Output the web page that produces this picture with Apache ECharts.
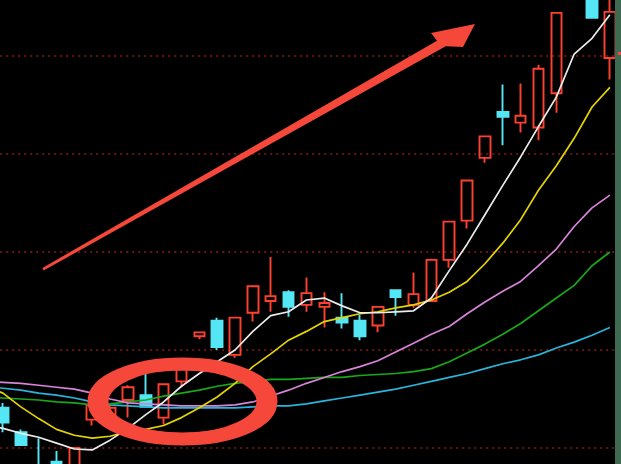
<!DOCTYPE html>
<html><head><meta charset="utf-8">
<script src="https://cdn.jsdelivr.net/npm/echarts@6/dist/echarts.min.js"></script>
<style>html,body{margin:0;padding:0;background:#000;overflow:hidden;width:621px;height:464px;position:relative;}
#c{position:absolute;left:-24px;top:-42px;width:648px;height:588px;}</style>
</head><body><div id="c"></div>
<script>
const days = ['1','2','3','4','5','6','7','8','9','10','11','12','13','14','15','16','17','18','19','20','21','22','23','24','25','26','27','28','29','30','31','32','33','34','35','36'];
const openP  = [8.39,8.41,8.16,7.82,7.86,7.78,8.29,8.34,8.49,8.54,8.31,8.68,9.14,9.30,8.95,9.38,9.50,9.59,9.46,9.44,9.33,9.30,9.25,9.61,9.46,9.50,9.92,10.32,10.96,11.43,11.32,11.27,11.62,12.83,12.83,11.98];
const closeP = [8.29,8.26,8.03,7.73,7.78,8.00,8.44,8.41,8.62,8.42,8.65,8.80,9.18,9.03,9.33,9.65,9.55,9.44,9.58,9.48,9.28,9.14,9.44,9.54,9.57,9.92,10.31,10.73,11.18,11.38,11.39,11.87,12.44,12.98,12.39,12.45];
const lowP   = [8.23,8.16,8.02,7.69,7.73,7.72,8.23,8.32,8.31,8.41,8.24,8.62,9.11,9.00,8.92,9.29,9.39,9.34,9.39,9.23,9.22,9.10,9.18,9.35,9.43,9.49,9.84,10.24,10.91,11.09,11.22,11.14,11.42,12.80,12.39,11.76];
const highP  = [8.44,8.46,8.19,8.10,7.97,8.01,8.49,8.44,8.64,8.76,8.66,8.82,9.19,9.33,9.34,9.66,9.95,9.61,9.74,9.59,9.58,9.36,9.45,9.61,9.79,9.93,10.31,10.73,11.18,11.71,11.72,11.91,12.44,12.99,12.93,12.67];
const ma5  = [8.24,8.20,8.15,8.11,8.05,7.99,7.98,8.08,8.20,8.34,8.47,8.63,8.76,8.88,9.00,9.19,9.35,9.39,9.51,9.53,9.45,9.38,9.38,9.39,9.40,9.53,9.81,10.08,10.38,10.68,10.97,11.28,11.58,12.02,12.18,12.42];
const ma10 = [8.63,8.56,8.42,8.30,8.19,8.13,8.10,8.12,8.17,8.19,8.23,8.31,8.41,8.52,8.66,8.83,8.96,9.10,9.19,9.29,9.33,9.37,9.39,9.43,9.46,9.51,9.59,9.70,9.88,10.09,10.33,10.63,10.88,11.16,11.48,11.68];
const ma20 = [8.68,8.67,8.66,8.64,8.62,8.60,8.56,8.50,8.46,8.45,8.44,8.43,8.43,8.43,8.44,8.47,8.53,8.59,8.66,8.72,8.78,8.83,8.89,8.98,9.07,9.16,9.24,9.37,9.49,9.60,9.70,9.86,10.03,10.26,10.45,10.58];
const ma30 = [8.52,8.51,8.50,8.49,8.47,8.46,8.44,8.45,8.47,8.49,8.53,8.56,8.59,8.63,8.66,8.68,8.70,8.70,8.71,8.72,8.72,8.74,8.75,8.76,8.78,8.81,8.88,8.97,9.06,9.16,9.27,9.40,9.53,9.66,9.86,10.00];
const ma60 = [8.63,8.61,8.59,8.56,8.54,8.51,8.47,8.44,8.43,8.42,8.41,8.41,8.41,8.41,8.41,8.42,8.43,8.43,8.45,8.48,8.51,8.54,8.57,8.60,8.64,8.68,8.72,8.76,8.81,8.86,8.90,8.95,9.02,9.08,9.15,9.23];

const kData = days.map((d, i) => [openP[i], closeP[i], lowP[i], highP[i]]);
const RED = '#f5483a';
function maLine(name, data, color) {
  return { name, type: 'line', data, symbol: 'none', smooth: false, z: 5,
    lineStyle: { color, width: 1.7 }, silent: true };
}
const chart = echarts.init(document.getElementById('c'), null, { renderer: 'canvas' });
chart.setOption({
  backgroundColor: '#000',
  animation: false,
  grid: { left: 0.2, right: 5.2, top: 0, bottom: 0, containLabel: false },
  xAxis: { type: 'category', data: days, boundaryGap: true,
    axisLine: { show: false }, axisTick: { show: false }, axisLabel: { show: false }, splitLine: { show: false } },
  yAxis: { type: 'value', min: 7, max: 13, interval: 1,
    axisLine: { show: false }, axisTick: { show: false }, axisLabel: { show: false },
    splitLine: { show: true, lineStyle: { color: '#8c1a1a', width: 1.5, type: [2, 4] } } },
  series: [
    { type: 'candlestick', data: kData, barWidth: 11, z: 3,
      itemStyle: { color: 'rgba(0,0,0,0)', color0: '#55e6f5', borderColor: '#ff4030', borderColor0: '#55e6f5', borderWidth: 1.9 } },
    maLine('MA60', ma60, '#2ab4dc'),
    maLine('MA30', ma30, '#18a818'),
    maLine('MA20', ma20, '#d884d8'),
    maLine('MA10', ma10, '#e6d400'),
    maLine('MA5', ma5, '#ececec')
  ],
  graphic: [
    { type: 'group', x: 24, y: 42, z: 100, children: [
      { type: 'polygon', z: 100, shape: { points: [[42.4,268.0],[437.0,40.8],[431,33],[475,24],[463,47],[445.7,46.2],[43.6,270.4]] },
        style: { fill: RED } },
      { type: 'ellipse', z: 100, shape: { cx: 182.5, cy: 401.5, rx: 88.5, ry: 37.5 },
        style: { fill: 'none', stroke: RED, lineWidth: 13 } },
      { type: 'ellipse', z: 100, shape: { cx: 182.5, cy: 401.5, rx: 80, ry: 37.5 },
        style: { fill: 'none', stroke: RED, lineWidth: 12 } },
      { type: 'rect', z: 100, shape: { x: 615, y: -42, width: 10, height: 560 }, style: { fill: '#3e6a52' } },
      { type: 'rect', z: 101, shape: { x: 618, y: 52, width: 3, height: 3 }, style: { fill: RED } }
    ] }
  ]
});
</script></body></html>
